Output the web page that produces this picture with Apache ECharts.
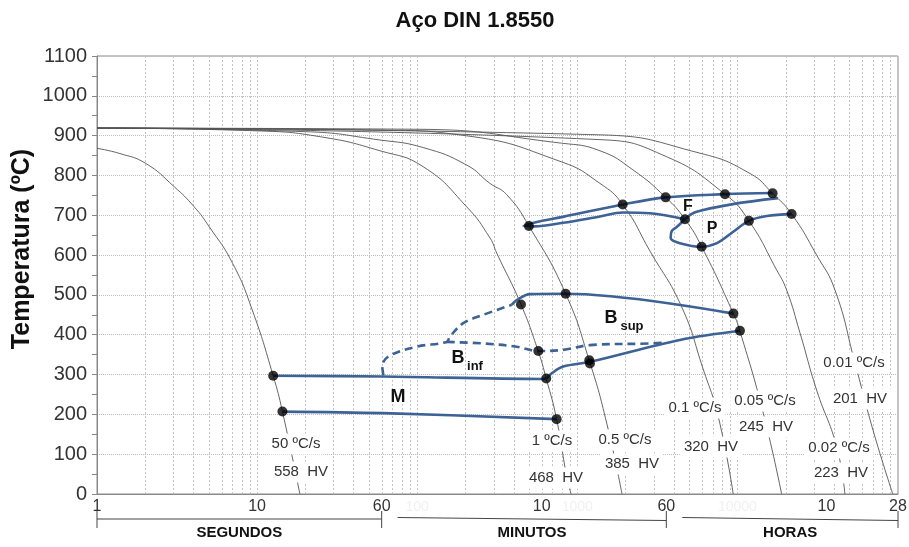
<!DOCTYPE html>
<html>
<head>
<meta charset="utf-8">
<script src="https://cdn.jsdelivr.net/npm/echarts@6/dist/echarts.min.js"></script>
<style>
  html, body { margin: 0; padding: 0; background: #fff; }
  #chart { width: 909px; height: 547px; }
</style>
</head>
<body>
<div id="chart"></div>
<script>
// ---- Data: time in seconds, temperature in ºC ----

// Cooling curves
const curve50  = [[1,868],[1.39,855],[2.02,830],[3.03,772],[4.03,722],[5.03,671],[7.04,579],[9.33,462],[12.6,297],[14.4,207],[18.5,0]];
const curve1   = [[1,919],[10,912],[25,897],[58.6,862],[109,822],[204,721],[285,643],[314,605],[445,476],[571,358],[640,290],[743,188],[859,44],[915,0]];
const curve05  = [[1,919],[20,910],[58.6,889],[109,870],[204,826],[285,780],[362,752],[499,673],[846,503],[1195,332],[1527,178],[1903,0]];
const curve01  = [[1,919],[58.6,914],[200,900],[799,834],[1386,780],[1922,727],[2846,610],[4487,470],[6100,315],[7600,194],[9424,0]];
const curve005 = [[1,919],[100,916],[799,881],[1386,862],[2228,814],[3565,745],[4707,690],[5985,621],[9450,453],[10380,409],[14520,203],[18900,0]];
const curve002 = [[1,919],[1386,890],[3616,847],[8370,753],[11810,686],[17580,563],[20320,512],[24600,405],[31270,261],[41690,119],[46970,0]];
const curve001 = [[1,919],[1386,902],[5836,856],[11990,805],[16600,755],[21830,703],[31270,600],[40740,512],[54300,329],[70300,161],[93500,0]];

const rateNames = ['50 ºC/s','1 ºC/s','0.5 ºC/s','0.1 ºC/s','0.05 ºC/s','0.02 ºC/s','0.01 ºC/s'];
const hardness  = ['558  HV','468  HV','385  HV','320  HV','245  HV','223  HV','201  HV'];

// Transformation lines
const ferriteStart = [[4707,690],[2846,705],[1928,707],[1386,697],[814,681],[540,672],[462,673],[560,683],[814,696],[1922,727],[3565,745],[8370,753],[16600,756]];
const pearliteStart = [[4707,690],[5500,708],[9380,728],[17940,743]];
const pearliteLoop  = [[4707,690],[4197,671],[3890,660],[3831,643],[4378,630],[5985,621],[7460,630],[9380,658],[11810,686],[15300,698],[21830,703]];
const bainiteStartDashed = [[61.5,298],[60.5,322],[67,347],[99,370],[153,382],[160,395],[194,429],[259,450],[389,475]];
const bainiteSup    = [[389,475],[418,487],[507,502],[846,503],[9450,453]];
const bainiteInfDashed = [[153,382],[259,378],[418,370],[571,359],[817,362],[1200,374],[2846,378],[3616,381]];
const bainiteFinish = [[12.6,297],[61.4,295],[613,289],[644,291],[692,303],[817,320],[1200,332],[4378,387],[10380,410]];
const martensite    = [[14.4,207],[61.4,203],[743,188]];

// Intersection points
const points = [[12.6,297],[14.4,207],[445,476],[571,359],[640,290],[743,188],[499,673],[846,503],[1189,336],[1200,328],
                [1922,727],[3565,745],[4707,690],[5985,621],[9450,453],[10380,410],[8370,753],[11810,686],[16600,755],[21830,703]];

// Time axis labels (seconds / minutes / hours)
const timeTicks      = [1, 10, 60, 600, 3600, 36000, 100800];
const timeTickLabels = ['1','10','60','10','60','10','28'];
const ghostTicks      = [100, 1000, 10000];
const ghostTickLabels = ['100','1000','10000'];
const unitNames = ['SEGUNDOS','MINUTOS','HORAS'];
const unitSpans = [[1,60],[60,3600],[3600,100800]];

// ---- Layout of annotations (pixel centres) ----
const rateLabelPos = [[296,444],[552,441],[625,440],[695,408],[765,401],[839,448],[854,363]];
const hvLabelPos   = [[301,472],[556,478],[632,464],[711,447],[766,427],[841,473],[860,399]];

const FONT = 'Arial, "Liberation Sans", sans-serif';
const curveColor = '#555555';
const blue = '#3d6295';

function coolLine(name, data) {
  return { name, type: 'line', data, smooth: 0.5, symbol: 'none', z: 2, silent: true,
           lineStyle: { color: curveColor, width: 0.9 } };
}
function phaseLine(name, data, dashed) {
  return { name, type: 'line', data, smooth: 0.35, symbol: 'none', z: 3, silent: true,
           lineStyle: { color: blue, width: 2.6, type: dashed ? [8, 5] : 'solid' } };
}

const chart = echarts.init(document.getElementById('chart'), null, { renderer: 'canvas' });

chart.setOption({
  animation: false,
  backgroundColor: '#fff',
  title: {
    text: 'Aço DIN 1.8550', left: 470, top: 5, textAlign: 'center',
    textStyle: { fontFamily: FONT, fontSize: 22, fontWeight: 'bold', color: '#111' }
  },
  grid: { left: 97, right: 11, top: 56, bottom: 53, show: true, borderColor: '#8a8a8a', borderWidth: 1 },
  xAxis: {
    type: 'log', logBase: 10, min: 1, max: 100800,
    axisLine: { lineStyle: { color: '#888' } },
    axisTick: { show: false }, axisLabel: { show: false }, splitLine: { show: false }
  },
  yAxis: {
    type: 'value', min: 0, max: 1100, interval: 100,
    axisLine: { show: true, lineStyle: { color: '#888' } },
    axisTick: { show: true, length: 5, lineStyle: { color: '#888' } },
    minorTick: { show: true, splitNumber: 2, length: 5, lineStyle: { color: '#888' } },
    axisLabel: { fontFamily: FONT, fontSize: 20, color: '#333', margin: 10, formatter: v => String(v) },
    splitLine: { show: true, lineStyle: { color: '#bdbdbd', type: 'dotted', width: 1 } }
  },
  series: [
    coolLine('50 ºC/s', curve50),
    coolLine('1 ºC/s', curve1),
    coolLine('0.5 ºC/s', curve05),
    coolLine('0.1 ºC/s', curve01),
    coolLine('0.05 ºC/s', curve005),
    coolLine('0.02 ºC/s', curve002),
    coolLine('0.01 ºC/s', curve001),
    phaseLine('Fs', ferriteStart),
    phaseLine('Ps', pearliteStart),
    phaseLine('Pf', pearliteLoop),
    phaseLine('Bs', bainiteStartDashed, true),
    phaseLine('Bsup', bainiteSup),
    phaseLine('Binf', bainiteInfDashed, true),
    phaseLine('Bf', bainiteFinish),
    phaseLine('Ms', martensite),
    { name: 'points', type: 'scatter', data: points, symbolSize: 10, z: 4, silent: true,
      itemStyle: { color: '#000' } }
  ]
});

// ---- Decorations placed from the axis scales ----
const xp = v => chart.convertToPixel({ xAxisIndex: 0 }, v);
const y0 = chart.convertToPixel({ yAxisIndex: 0 }, 0);
const yTop = chart.convertToPixel({ yAxisIndex: 0 }, 1100);
const g = [];

// vertical log grid: 2..9 x 10^n
for (let d = 1; d <= 10000; d *= 10) {
  for (let m = (d === 1 ? 2 : 1); m <= 9; m++) {
    const x = Math.round(xp(m * d)) + 0.5;
    g.push({ type: 'line', z: 1, silent: true, shape: { x1: x, y1: yTop, x2: x, y2: y0 },
             style: { stroke: '#c4c4c4', lineWidth: 1, lineDash: [2, 2] } });
  }
}

function txt(text, x, y, opts, extra) {
  g.push(Object.assign({ type: 'text', x, y, z: 100, silent: true,
    style: Object.assign({ text, fill: '#333', align: 'center', verticalAlign: 'middle',
      fontFamily: FONT, fontSize: 15 }, opts || {}) }, extra || {}));
}

timeTicks.forEach((t, i) => txt(timeTickLabels[i], xp(t), y0 + 13, { fontSize: 16 }));
ghostTicks.forEach((t, i) => txt(ghostTickLabels[i], xp(t), y0 + 13, { fontSize: 14, fill: '#f1f1f1' }));

unitSpans.forEach((s, i) => {
  const a = xp(s[0]), b = xp(s[1]);
  const yl = y0 + 25;
  const start = i === 0 ? a : a + 16;
  g.push({ type: 'line', z: 100, silent: true, shape: { x1: start, y1: yl - (i ? 1.5 : 0), x2: b, y2: yl + (i ? 1.5 : 0) },
           style: { stroke: '#444', lineWidth: 1 } });
  g.push({ type: 'line', z: 100, silent: true, shape: { x1: b, y1: yl - 8, x2: b, y2: yl + 9 },
           style: { stroke: '#444', lineWidth: 1 } });
  if (i === 0) g.push({ type: 'line', z: 100, silent: true, shape: { x1: a, y1: yl - 8, x2: a, y2: yl + 9 },
           style: { stroke: '#444', lineWidth: 1 } });
  txt(unitNames[i], (start + b) / 2, y0 + 39, { fontSize: 15, fontWeight: 'bold', fill: '#111' });
});

// axis title
txt('Temperatura (ºC)', 22, 249, { fontSize: 25, fontWeight: 'bold', fill: '#111' }, { rotation: Math.PI / 2 });

rateNames.forEach((n, i) => {
  txt(n, rateLabelPos[i][0], rateLabelPos[i][1], { backgroundColor: '#fff', padding: [3, 4] });
  txt(hardness[i], hvLabelPos[i][0], hvLabelPos[i][1], { backgroundColor: '#fff', padding: [3, 4] });
});

// Phase field letters
const bold = { fontWeight: 'bold', fill: '#111', fontSize: 18 };
txt('M', 398, 397, bold);
txt('B', 458, 358, bold);
txt('inf', 475, 366, { fontWeight: 'bold', fill: '#111', fontSize: 13 });
txt('B', 611, 318, bold);
txt('sup', 632, 326, { fontWeight: 'bold', fill: '#111', fontSize: 13 });
txt('F', 688, 207, { fontWeight: 'bold', fill: '#111', fontSize: 16 });
txt('P', 712, 229, { fontWeight: 'bold', fill: '#111', fontSize: 16 });

chart.setOption({ graphic: { elements: g } });
</script>
</body>
</html>
